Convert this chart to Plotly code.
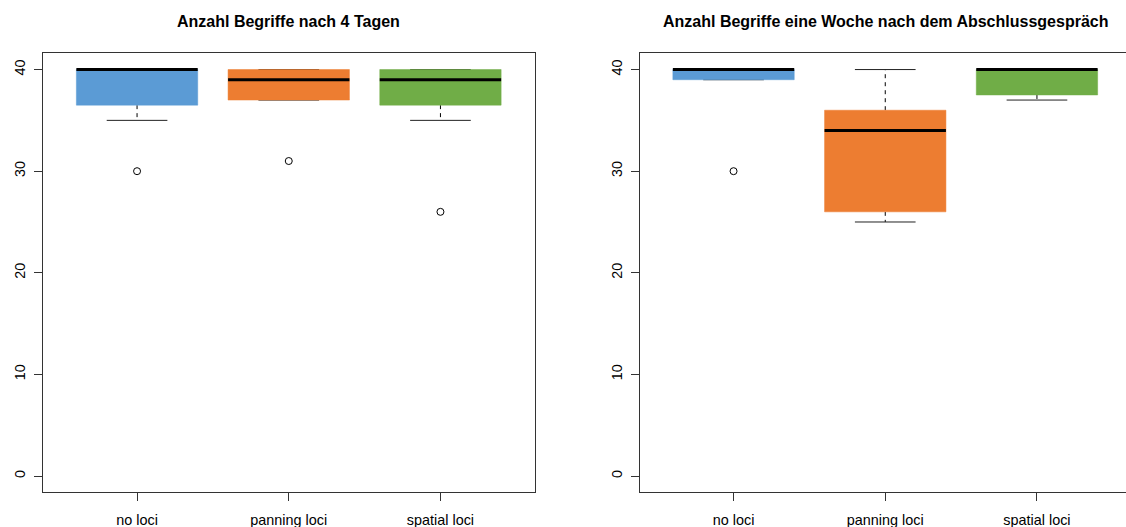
import plotly.graph_objects as go

# ---- data ----
categories = ["no loci", "panning loci", "spatial loci"]
box_colors = ["#5B9BD5", "#ED7D31", "#70AD47"]

titles = ["Anzahl Begriffe nach 4 Tagen",
          "Anzahl Begriffe eine Woche nach dem Abschlussgespräch"]

# Panel 1: nach 4 Tagen
p1_lower = [35, 37, 35]
p1_q1 = [36.5, 37, 36.5]
p1_median = [40, 39, 39]
p1_q3 = [40, 40, 40]
p1_upper = [40, 40, 40]
p1_outliers = [[30], [31], [26]]

# Panel 2: eine Woche nach dem Abschlussgespräch
p2_lower = [39, 25, 37]
p2_q1 = [39, 26, 37.5]
p2_median = [40, 34, 40]
p2_q3 = [40, 36, 40]
p2_upper = [40, 40, 40]
p2_outliers = [[30], [], []]

y_ticks = [0, 10, 20, 30, 40]

FONT = "Liberation Sans, Arial, Helvetica, sans-serif"
BOXWEX = 0.8
STAPLE = 0.5

fig = go.Figure()


def add_panel(xa, ya, lower, q1, med, q3, upper, outliers):
    pos = list(range(1, len(categories) + 1))
    hw = BOXWEX / 2
    sw = BOXWEX * STAPLE / 2
    # whiskers & caps
    for p, lo, a, b, hi in zip(pos, lower, q1, q3, upper):
        if lo < a:
            fig.add_trace(go.Scatter(x=[p, p], y=[a, lo], mode="lines", xaxis=xa, yaxis=ya,
                                     line=dict(color="black", width=1, dash="4px,4px"),
                                     showlegend=False, hoverinfo="skip"))
        if hi > b:
            fig.add_trace(go.Scatter(x=[p, p], y=[b, hi], mode="lines", xaxis=xa, yaxis=ya,
                                     line=dict(color="black", width=1, dash="4px,4px"),
                                     showlegend=False, hoverinfo="skip"))
        for v in (lo, hi):
            fig.add_trace(go.Scatter(x=[p - sw, p + sw], y=[v, v], mode="lines", xaxis=xa, yaxis=ya,
                                     line=dict(color="#222222", width=1),
                                     showlegend=False, hoverinfo="skip"))
    # boxes
    for p, a, b, c in zip(pos, q1, q3, box_colors):
        fig.add_trace(go.Scatter(x=[p - hw, p + hw, p + hw, p - hw, p - hw],
                                 y=[a, a, b, b, a], mode="lines", fill="toself",
                                 fillcolor=c, line=dict(color=c, width=0.5),
                                 xaxis=xa, yaxis=ya, showlegend=False, hoverinfo="skip"))
    # medians
    for p, m in zip(pos, med):
        fig.add_trace(go.Scatter(x=[p - hw, p + hw], y=[m, m], mode="lines", xaxis=xa, yaxis=ya,
                                 line=dict(color="black", width=3),
                                 showlegend=False, hoverinfo="skip"))
    # outliers
    for p, outs in zip(pos, outliers):
        if outs:
            fig.add_trace(go.Scatter(x=[p] * len(outs), y=outs, mode="markers", xaxis=xa, yaxis=ya,
                                     marker=dict(symbol="circle-open", size=7,
                                                 color="black", line=dict(width=1)),
                                     showlegend=False, hoverinfo="skip"))


add_panel("x", "y", p1_lower, p1_q1, p1_median, p1_q3, p1_upper, p1_outliers)
add_panel("x2", "y2", p2_lower, p2_q1, p2_median, p2_q3, p2_upper, p2_outliers)

W, H = 1126, 527


def fx(px):
    return px / W


def fy(py):
    return 1 - py / H


px_per_unit = (534.5 - 43) / 3.24
y_dom = [fy(492.3), fy(53.3)]

common_x = dict(tickvals=[1, 2, 3], ticktext=categories, showgrid=False, zeroline=False,
                showline=True, linecolor="#333333", linewidth=1, ticks="outside", ticklen=8,
                tickcolor="#333333", tickfont=dict(family=FONT, size=14.4, color="black"),
                ticklabelstandoff=6)
common_y = dict(tickvals=y_ticks, range=[-1.6, 41.6], domain=y_dom, showgrid=False,
                zeroline=False, showline=True, linecolor="#333333", linewidth=1,
                ticks="outside", ticklen=8, tickcolor="#333333", tickangle=-90,
                tickfont=dict(family=FONT, size=14.4, color="black"), ticklabelstandoff=3)

fig.update_layout(
    width=W, height=H, margin=dict(l=0, r=0, t=0, b=0),
    paper_bgcolor="white", plot_bgcolor="white",
    xaxis=dict(common_x, domain=[fx(43), fx(534.5)], range=[0.38, 3.62], mirror=True, anchor="y"),
    yaxis=dict(common_y, mirror=True, anchor="x"),
    xaxis2=dict(common_x, domain=[fx(639.5), 1.0],
                range=[0.38, 0.38 + (W - 639.5) / px_per_unit], mirror=True, anchor="y2"),
    yaxis2=dict(common_y, mirror=False, anchor="x2"),
    annotations=[
        dict(text="<b>%s</b>" % titles[0], xref="x", yref="paper", x=2, y=fy(21.5),
             xanchor="center", yanchor="middle", showarrow=False,
             font=dict(family=FONT, size=16, color="black")),
        dict(text="<b>%s</b>" % titles[1], xref="x2", yref="paper", x=2, y=fy(21.5),
             xanchor="center", yanchor="middle", showarrow=False,
             font=dict(family=FONT, size=16, color="black")),
    ],
)

fig.write_html(
    "out.html",
    config={"displayModeBar": False},
    post_script="document.body.style.margin='0';document.body.style.overflow='hidden';",
)
